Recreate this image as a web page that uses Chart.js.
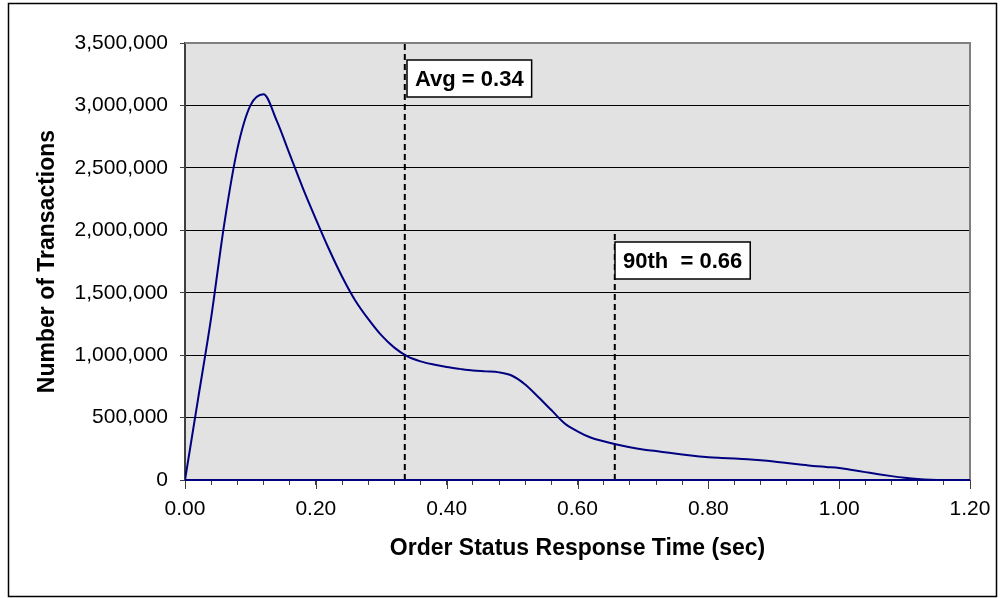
<!DOCTYPE html>
<html lang="en">
<head>
    <meta charset="UTF-8">
    <title>Order Status Response Time</title>
    <style>
        body { margin: 0; background: #fff; }
        canvas { display: block; }
    </style>
</head>
<body>
    <canvas id="responseChart" width="1005" height="598"></canvas>

    <script src="https://cdn.jsdelivr.net/npm/chart.js"></script>
    <script>
        // response time buckets (sec)
        const responseTime = [
            0.00, 0.02, 0.04, 0.06, 0.08, 0.10, 0.12, 0.14, 0.16, 0.18,
            0.20, 0.22, 0.24, 0.26, 0.28, 0.30, 0.32, 0.34, 0.36, 0.38,
            0.40, 0.42, 0.44, 0.46, 0.48, 0.50, 0.52, 0.54, 0.56, 0.58,
            0.60, 0.62, 0.64, 0.66, 0.68, 0.70, 0.72, 0.74, 0.76, 0.78,
            0.80, 0.82, 0.84, 0.86, 0.88, 0.90, 0.92, 0.94, 0.96, 0.98,
            1.00, 1.02, 1.04, 1.06, 1.08, 1.10, 1.12, 1.14, 1.16, 1.18,
            1.20
        ];

        // number of transactions per bucket
        const transactions = [
            0, 650000, 1300000, 2050000, 2650000, 3000000, 3090000, 2880000, 2610000, 2340000,
            2090000, 1850000, 1630000, 1440000, 1290000, 1160000, 1060000, 990000, 950000, 925000,
            905000, 890000, 877000, 870000, 862000, 835000, 765000, 665000, 560000, 455000,
            390000, 340000, 310000, 285000, 263000, 245000, 232000, 218000, 205000, 193000,
            183000, 177000, 172000, 166000, 158000, 148000, 136000, 124000, 113000, 105000,
            97000, 80000, 63000, 46000, 31000, 18000, 8000, 2000, 0, 0,
            0
        ];

        const avgTime = 0.336;
        const p90Time = 0.657;
        const avgLabel = 'Avg = 0.34';
        const p90Label = '90th  = 0.66';
        const avgLineTop = 3520000;
        const p90LineTop = 1980000;
        const avgLabelTop = 3360000;
        const p90LabelTop = 1910000;

        const xTitle = 'Order Status Response Time (sec)';
        const yTitle = 'Number of Transactions';

        document.addEventListener('DOMContentLoaded', function () {
            const ctx = document.getElementById('responseChart').getContext('2d');

            // grey plot area, frame round the whole picture, longer major ticks
            const framePlugin = {
                id: 'frame',
                beforeDraw(chart) {
                    const c = chart.ctx;
                    const a = chart.chartArea;
                    c.save();
                    c.fillStyle = '#ffffff';
                    c.fillRect(0, 0, chart.width, chart.height);
                    c.strokeStyle = '#000000';
                    c.lineWidth = 1.5;
                    c.strokeRect(8.5, 3.5, 988, 593);
                    c.fillStyle = '#e2e2e2';
                    c.fillRect(a.left, a.top, a.right - a.left, a.bottom - a.top);
                    c.restore();
                },
                afterDatasetsDraw(chart) {
                    const c = chart.ctx;
                    const a = chart.chartArea;
                    const xs = chart.scales.x;
                    c.save();
                    c.strokeStyle = '#808080';
                    c.lineWidth = 2;
                    c.beginPath();
                    c.moveTo(a.left, a.top);
                    c.lineTo(a.right, a.top);
                    c.lineTo(a.right, a.bottom);
                    c.stroke();
                    // major ticks
                    c.strokeStyle = '#404040';
                    c.lineWidth = 1;
                    xs.ticks.forEach(t => {
                        if (isMajor(t.value)) {
                            const px = Math.round(xs.getPixelForValue(t.value)) + 0.5;
                            c.beginPath();
                            c.moveTo(px, a.bottom);
                            c.lineTo(px, a.bottom + 9);
                            c.stroke();
                        }
                    });
                    // x axis line drawn in series colour
                    c.strokeStyle = '#000080';
                    c.lineWidth = 2;
                    c.beginPath();
                    c.moveTo(a.left, a.bottom);
                    c.lineTo(a.right, a.bottom);
                    c.stroke();
                    c.restore();
                }
            };

            const labelPlugin = {
                id: 'labels',
                afterDraw(chart) {
                    const c = chart.ctx;
                    const xs = chart.scales.x;
                    const ys = chart.scales.y;
                    const boxes = [
                        [avgTime, avgLabelTop, avgLabel, 2],
                        [p90Time, p90LabelTop, p90Label, 0]
                    ];
                    c.save();
                    c.font = 'bold 22px "Liberation Sans", Arial, sans-serif';
                    c.textBaseline = 'middle';
                    boxes.forEach(([xv, yv, text, gap]) => {
                        const left = Math.round(xs.getPixelForValue(xv)) + gap;
                        const top = Math.round(ys.getPixelForValue(yv));
                        const w = c.measureText(text).width + 16;
                        const h = 37;
                        c.fillStyle = '#ffffff';
                        c.fillRect(left, top, w, h);
                        c.strokeStyle = '#000000';
                        c.lineWidth = 1.5;
                        c.strokeRect(left, top, w, h);
                        c.fillStyle = '#000000';
                        c.fillText(text, left + 8, top + h / 2 + 1);
                    });
                    c.restore();
                }
            };

            function isMajor(v) {
                const r = v / 0.2;
                return Math.abs(r - Math.round(r)) < 1e-6;
            }

            const data = {
                datasets: [
                    {
                        label: 'Order Status',
                        data: responseTime.map((t, i) => ({ x: t, y: transactions[i] })),
                        borderColor: '#000080',
                        borderWidth: 2,
                        pointRadius: 0,
                        cubicInterpolationMode: 'monotone',
                        order: 1
                    },
                    {
                        label: 'Avg',
                        data: [{ x: avgTime, y: 0 }, { x: avgTime, y: avgLineTop }],
                        borderColor: '#000000',
                        borderWidth: 2,
                        borderDash: [6, 4],
                        pointRadius: 0,
                        clip: false,
                        order: 2
                    },
                    {
                        label: '90th',
                        data: [{ x: p90Time, y: 0 }, { x: p90Time, y: p90LineTop }],
                        borderColor: '#000000',
                        borderWidth: 2,
                        borderDash: [6, 4],
                        pointRadius: 0,
                        order: 2
                    }
                ]
            };

            const config = {
                type: 'line',
                data,
                options: {
                    responsive: false,
                    devicePixelRatio: 1,
                    animation: false,
                    layout: { padding: { left: 0, top: 43, right: 35, bottom: 0 } },
                    plugins: {
                        legend: { display: false },
                        tooltip: { enabled: false }
                    },
                    scales: {
                        x: {
                            type: 'linear',
                            min: 0,
                            max: 1.2,
                            afterFit: scale => { scale.height = 118; },
                            ticks: {
                                stepSize: 0.04,
                                autoSkip: false,
                                maxRotation: 0,
                                padding: 12,
                                color: '#000000',
                                font: { family: '"Liberation Sans", Arial, sans-serif', size: 21 },
                                callback: value => isMajor(value) ? value.toFixed(2) : ''
                            },
                            grid: {
                                drawOnChartArea: false,
                                tickLength: 5,
                                tickColor: '#404040'
                            },
                            border: { color: '#000080', width: 2 },
                            title: {
                                display: true,
                                text: xTitle,
                                color: '#000000',
                                padding: { top: 0, bottom: 36 },
                                font: { family: '"Liberation Sans", Arial, sans-serif', size: 23, weight: 'bold' }
                            }
                        },
                        y: {
                            min: 0,
                            max: 3500000,
                            afterFit: scale => { scale.width = 185; },
                            ticks: {
                                stepSize: 500000,
                                padding: 12,
                                color: '#000000',
                                font: { family: '"Liberation Sans", Arial, sans-serif', size: 21 },
                                callback: value => value.toLocaleString('en-US')
                            },
                            grid: {
                                color: '#000000',
                                lineWidth: 1,
                                tickLength: 5,
                                tickColor: '#404040'
                            },
                            border: { color: '#404040', width: 2 },
                            title: {
                                display: true,
                                text: yTitle,
                                color: '#000000',
                                padding: { top: 34, bottom: 0 },
                                font: { family: '"Liberation Sans", Arial, sans-serif', size: 23, weight: 'bold' }
                            }
                        }
                    }
                },
                plugins: [framePlugin, labelPlugin]
            };

            new Chart(ctx, config);
        });
    </script>
</body>
</html>
